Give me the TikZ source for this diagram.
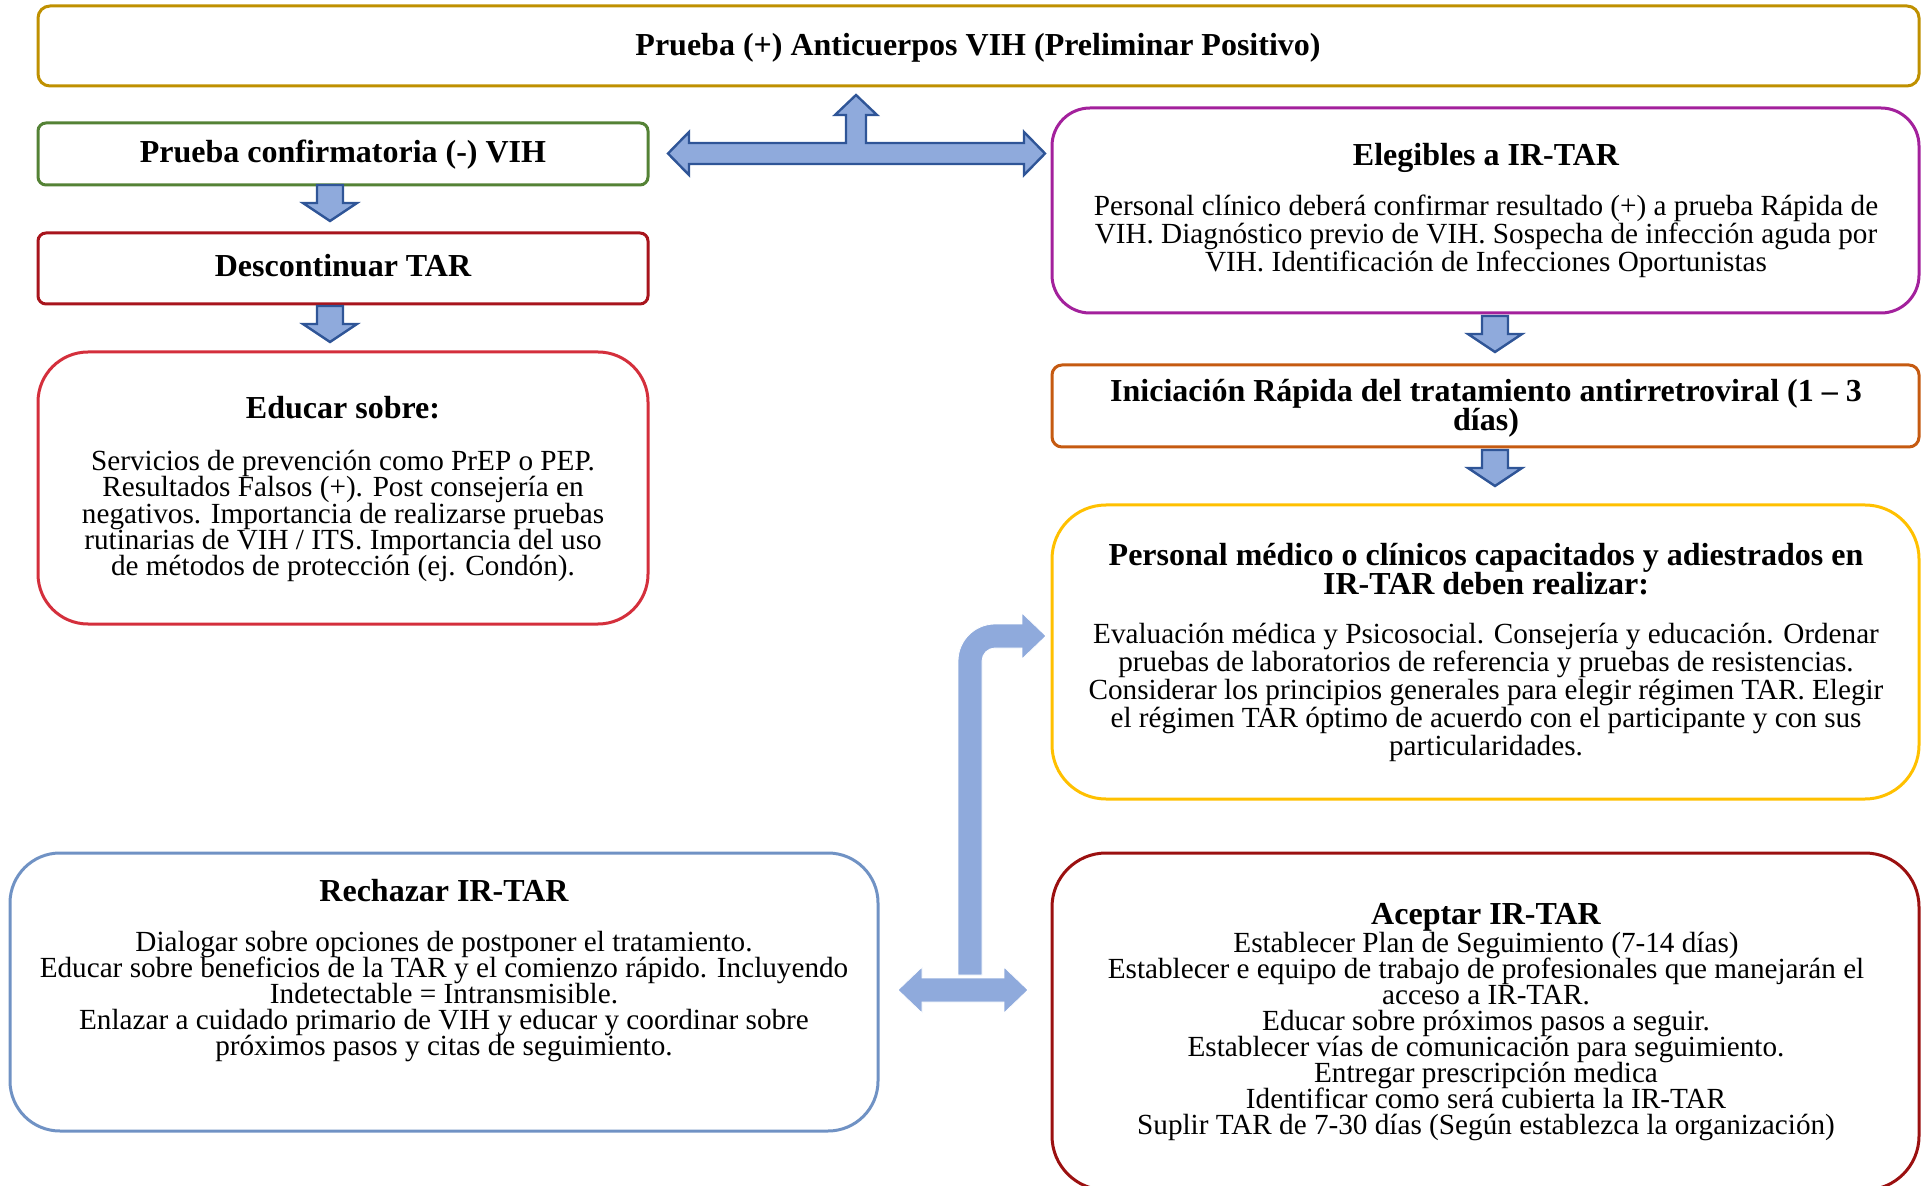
\documentclass[tikz,border=0pt]{standalone}
\usepackage{fontspec}
\setmainfont{Liberation Serif}
\usetikzlibrary{fit,calc}
\definecolor{cgold}{HTML}{BF9000}
\definecolor{cgreen}{HTML}{548235}
\definecolor{cdred}{HTML}{A8141C}
\definecolor{cred}{HTML}{D42F3C}
\definecolor{cpurple}{HTML}{A3219C}
\definecolor{corange}{HTML}{C55A11}
\definecolor{cyellow}{HTML}{FFC000}
\definecolor{cblue}{HTML}{7092C4}
\definecolor{cmaroon}{HTML}{9B1010}
\definecolor{afill}{HTML}{8FAADC}
\definecolor{aline}{HTML}{2F5597}
\newcommand\bodyfont[1]{\fontsize{14.6}{#1}\selectfont\lineskiplimit=-20pt}
\newcommand\ttlfont{\fontsize{16}{14.6}\selectfont\bfseries\lineskiplimit=-20pt}
\newcommand\downarr[2]{%
  \filldraw[barrow] (#1-13,#2) -- (#1+13,#2) -- (#1+13,#2+18) -- (#1+27,#2+18)
    -- (#1,#2+36) -- (#1-27,#2+18) -- (#1-13,#2+18) -- cycle;}
\tikzset{
  box/.style={draw, line width=1.5pt, inner sep=0pt, fit={#1}},
  ttl/.style={font=\ttlfont, align=center, inner sep=0pt},
  body/.style={font=\bodyfont{#1}, align=center, inner sep=0pt},
  body/.default=13pt,
  barrow/.style={fill=afill, draw=aline, line width=1.2pt, line join=miter},
  larrow/.style={fill=afill, draw=white, line width=0.4pt},
}
\begin{document}
\begin{tikzpicture}[x=0.5pt,y=-0.5pt]
\useasboundingbox (0,0) rectangle (1925,1186);
% boxes
\node[box={(38,6) (1919,86)}, draw=cgold, rounded corners=6pt] (top) {};
\node[box={(38,123) (648,185)}, draw=cgreen, rounded corners=4pt] (conf) {};
\node[box={(38,233) (648,304)}, draw=cdred, rounded corners=4pt] (desc) {};
\node[box={(38,352) (648,624)}, draw=cred, rounded corners=25pt] (educ) {};
\node[box={(1052,108) (1919,313)}, draw=cpurple, rounded corners=19pt] (eleg) {};
\node[box={(1052,365) (1919,447)}, draw=corange, rounded corners=5pt] (inic) {};
\node[box={(1052,505) (1919,799)}, draw=cyellow, rounded corners=27pt] (pers) {};
\node[box={(10,853) (878,1131)}, draw=cblue, rounded corners=25pt] (rech) {};
\node[box={(1052,853) (1919,1190)}, draw=cmaroon, rounded corners=27pt] (acep) {};
% texts
\node[ttl] (tTop) at (978,48) {Prueba (+) Anticuerpos VIH (Preliminar Positivo)};
\node[ttl] (tConf) at (343,154.5) {Prueba confirmatoria (-) VIH};
\node[ttl] (tDesc) at (343,266) {Descontinuar TAR};
\node[ttl] (tEduc) at (343,408) {Educar sobre:};
\node[body=13.2pt] (bEduc) at (343,516) {Servicios de prevención como PrEP o PEP.\\
Resultados Falsos (+). Post consejería en\\
negativos. Importancia de realizarse pruebas\\
rutinarias de VIH / ITS. Importancia del uso\\
de métodos de protección (ej. Condón).};
\node[ttl] (tEleg) at (1486,157.5) {Elegibles a IR-TAR};
\node[body=14pt] (bEleg) at (1486,236) {Personal clínico deberá confirmar resultado (+) a prueba Rápida de\\
VIH. Diagnóstico previo de VIH. Sospecha de infección aguda por\\
VIH. Identificación de Infecciones Oportunistas};
\node[ttl] (tInic) at (1486,408) {Iniciación Rápida del tratamiento antirretroviral (1 – 3\\días)};
\node[ttl] (tPers) at (1486,569) {Personal médico o clínicos capacitados y adiestrados en\\IR-TAR deben realizar:};
\node[body=14pt] (bPers) at (1486,692) {Evaluación médica y Psicosocial. Consejería y educación. Ordenar\\
pruebas de laboratorios de referencia y pruebas de resistencias.\\
Considerar los principios generales para elegir régimen TAR. Elegir\\
el régimen TAR óptimo de acuerdo con el participante y con sus\\
particularidades.};
\node[ttl] (tRech) at (444,891) {Rechazar IR-TAR};
\node[body=13pt] (bRech) at (444,997) {Dialogar sobre opciones de postponer el tratamiento.\\
Educar sobre beneficios de la TAR y el comienzo rápido. Incluyendo\\
Indetectable = Intransmisible.\\
Enlazar a cuidado primario de VIH y educar y coordinar sobre\\
próximos pasos y citas de seguimiento.};
\node[ttl] (tAcep) at (1486,917) {Aceptar IR-TAR};
\node[body=13pt] (bAcep) at (1486,1036) {Establecer Plan de Seguimiento (7-14 días)\\
Establecer e equipo de trabajo de profesionales que manejarán el\\
acceso a IR-TAR.\\
Educar sobre próximos pasos a seguir.\\
Establecer vías de comunicación para seguimiento.\\
Entregar prescripción medica\\
Identificar como será cubierta la IR-TAR\\
Suplir TAR de 7-30 días (Según establezca la organización)};
% block arrows
\downarr{330}{185}
\downarr{330}{306}
\downarr{1495}{316}
\downarr{1495}{450}
\filldraw[barrow] (668,153.5) -- (689,132) -- (689,143) -- (846,143) -- (846,115)
  -- (835,115) -- (856,95) -- (877,115) -- (866,115) -- (866,143) -- (1024,143)
  -- (1024,132) -- (1045,153.5) -- (1024,175) -- (1024,164) -- (689,164)
  -- (689,175) -- cycle;
\filldraw[larrow] (958,975) -- (958,661) .. controls (958,640.6) and (974.6,624) .. (995,624)
  -- (1022,624) -- (1022,613) -- (1046,636) -- (1022,659) -- (1022,648) -- (995,648)
  .. controls (987.8,648) and (982,653.8) .. (982,661) -- (982,975) -- cycle;
\filldraw[larrow] (898,990) -- (922,967) -- (922,978) -- (1004,978) -- (1004,967)
  -- (1028,990) -- (1004,1013) -- (1004,1002) -- (922,1002) -- (922,1013) -- cycle;
\end{tikzpicture}
\end{document}
